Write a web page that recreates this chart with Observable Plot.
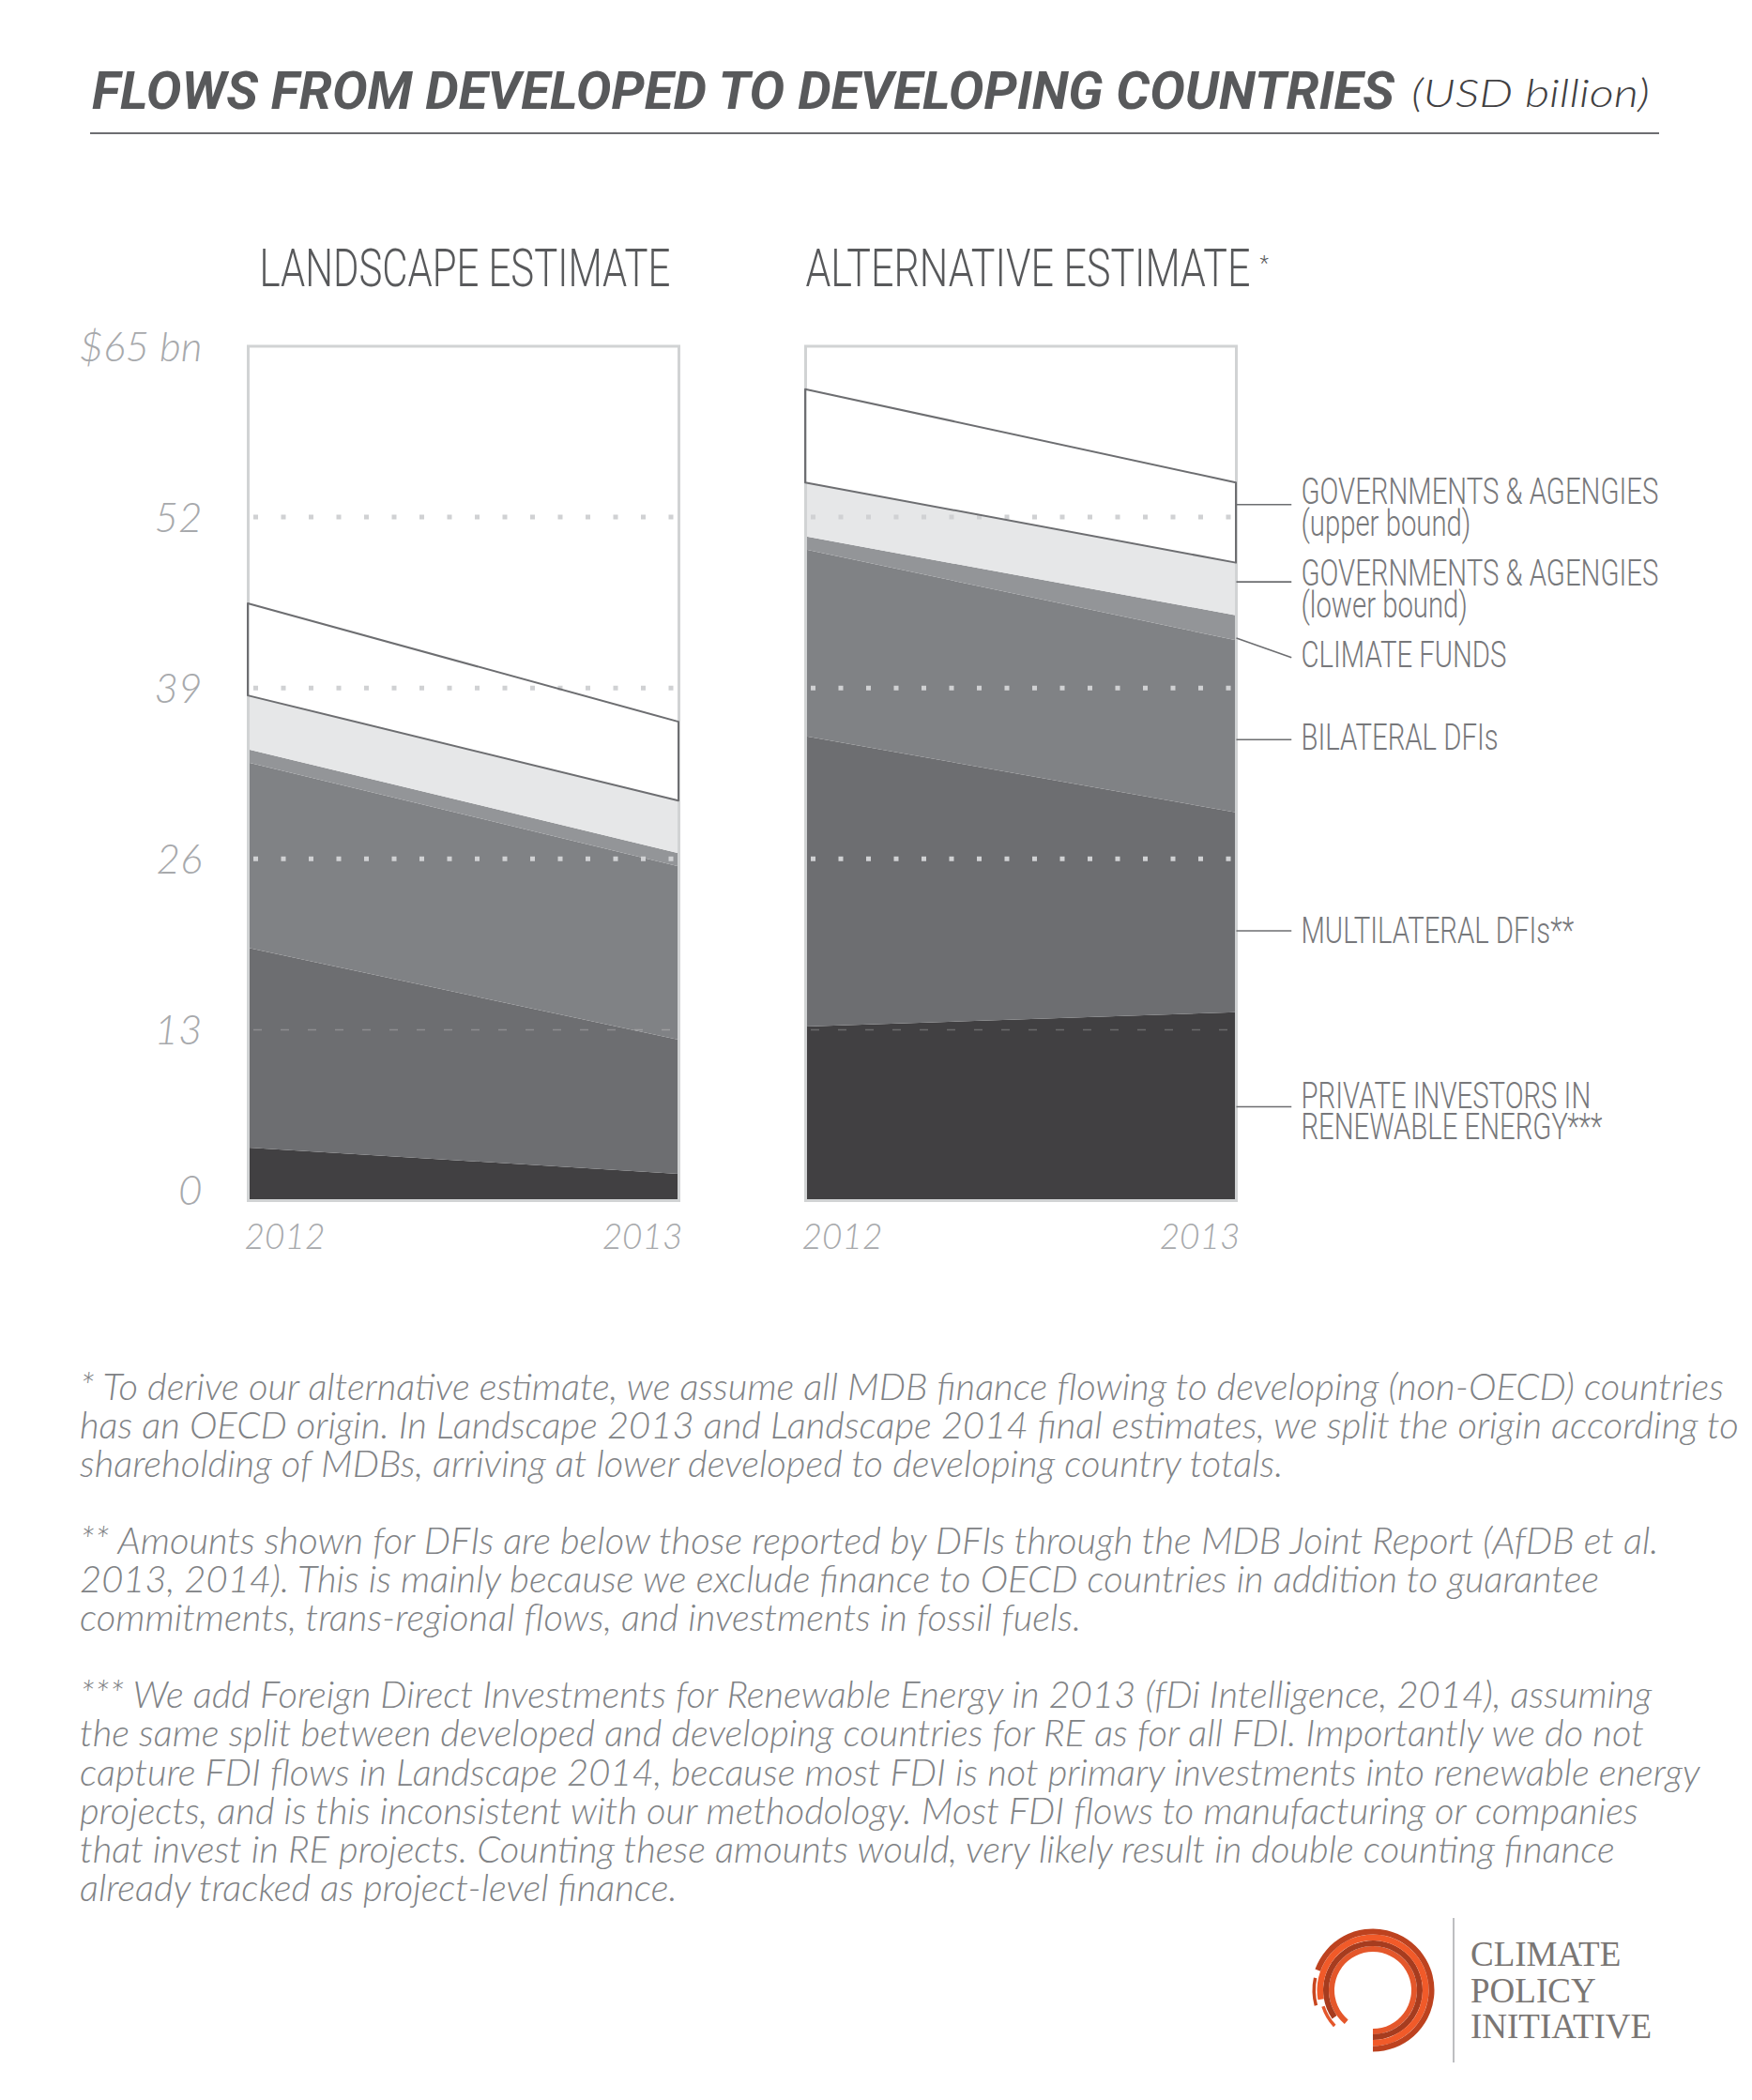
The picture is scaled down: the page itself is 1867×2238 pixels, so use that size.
<!DOCTYPE html>
<html>
<head>
<meta charset="utf-8">
<script src="https://cdn.jsdelivr.net/npm/d3@7"></script>
<script src="https://cdn.jsdelivr.net/npm/@observablehq/plot@0.6"></script>
<style>
  html, body { margin: 0; padding: 0; background: #fff; }
  #page { position: relative; width: 1867px; height: 2238px; overflow: hidden; background: #fff; }
  .abs { position: absolute; white-space: nowrap; line-height: 1; }
  .fit { display: inline-block; transform-origin: 0 50%; }
</style>
</head>
<body>
<div id="page"></div>
<script>
// ---------------- DATA ----------------
const panels = ["LANDSCAPE ESTIMATE", "ALTERNATIVE ESTIMATE"];
const years = [2012, 2013];
const layers = [
  "Private investors in renewable energy",
  "Multilateral DFIs",
  "Bilateral DFIs",
  "Climate funds",
  "Governments & agencies (lower bound)",
  "Governments & agencies (upper bound)"
];
const layerColors = ["#414042", "#6d6e71", "#808285", "#939598", "#e6e7e8", "#ffffff"];

// Landscape estimate, USD bn, [2012, 2013]
const landscapePrivate      = [4.0, 2.0];
const landscapeMultilateral = [15.2, 10.2];
const landscapeBilateral    = [14.1, 13.2];
const landscapeClimateFunds = [1.0, 1.0];
const landscapeGovLower     = [4.1, 4.0];
const landscapeGovUpper     = [7.0, 6.0];

// Alternative estimate, USD bn, [2012, 2013]
const alternativePrivate      = [13.2, 14.3];
const alternativeMultilateral = [22.1, 15.2];
const alternativeBilateral    = [14.2, 13.1];
const alternativeClimateFunds = [1.0, 1.9];
const alternativeGovLower     = [4.1, 4.0];
const alternativeGovUpper     = [7.1, 6.1];

const yTicks = [13, 26, 39, 52, 65];
const yTickLabels = ["13", "26", "39", "52", "$65 bn"];
const yZero = [0];
const dottedGrid = [52, 39, 26];
const dashedGrid = [13];

// labels on the right of the alternative panel
const sideLabels = [
  "GOVERNMENTS & AGENGIES\n(upper bound)",
  "GOVERNMENTS & AGENGIES\n(lower bound)",
  "CLIMATE FUNDS",
  "BILATERAL DFIs",
  "MULTILATERAL DFIs**",
  "PRIVATE INVESTORS IN\nRENEWABLE ENERGY***"
];
const sideLabelY = [52.57, 46.36, 41.37, 35.09, 20.37, 6.6];
const leaderY1   = [52.95, 47.07, 42.79, 35.07, 20.52, 7.14];
const leaderY2   = [52.95, 47.07, 41.31, 35.07, 20.52, 7.14];
const leaderLength = 0.128; // in years, from the 2013 edge

const title = "FLOWS FROM DEVELOPED TO DEVELOPING COUNTRIES";
const titleUnit = "(USD billion)";
const footnoteLines = [
  "* To derive our alternative estimate, we assume all MDB finance flowing to developing (non-OECD) countries",
  "has an OECD origin. In Landscape 2013 and Landscape 2014 final estimates, we split the origin according to",
  "shareholding of MDBs, arriving at lower developed to developing country totals.",
  "",
  "** Amounts shown for DFIs are below those reported by DFIs through the MDB Joint Report (AfDB et al.",
  "2013, 2014). This is mainly because we exclude finance to OECD countries in addition to guarantee",
  "commitments, trans-regional flows, and investments in fossil fuels.",
  "",
  "*** We add Foreign Direct Investments for Renewable Energy in 2013 (fDi Intelligence, 2014), assuming",
  "the same split between developed and developing countries for RE as for all FDI. Importantly we do not",
  "capture FDI flows in Landscape 2014, because most FDI is not primary investments into renewable energy",
  "projects, and is this inconsistent with our methodology. Most FDI flows to manufacturing or companies",
  "that invest in RE projects. Counting these amounts would, very likely result in double counting finance",
  "already tracked as project-level finance."
];
const logoLines = ["CLIMATE", "POLICY", "INITIATIVE"];

// ---------------- BUILD ROWS ----------------
const seriesByPanel = {
  "LANDSCAPE ESTIMATE": [landscapePrivate, landscapeMultilateral, landscapeBilateral, landscapeClimateFunds, landscapeGovLower, landscapeGovUpper],
  "ALTERNATIVE ESTIMATE": [alternativePrivate, alternativeMultilateral, alternativeBilateral, alternativeClimateFunds, alternativeGovLower, alternativeGovUpper]
};
const rows = [];
for (const panel of panels) {
  const vals = seriesByPanel[panel];
  years.forEach((year, j) => {
    let base = 0;
    layers.forEach((layer, i) => {
      const v = vals[i][j];
      rows.push({panel, year, layer, y1: base, y2: base + v});
      base += v;
    });
  });
}
const labelRows = sideLabels.map((text, i) => ({
  panel: panels[1], text, y: sideLabelY[i], ly1: leaderY1[i], ly2: leaderY2[i]
}));

const page = document.getElementById("page");

// ---------------- TITLE ----------------
function addLine(text, {left, baseline, size, family, weight, style, color, asc}) {
  const div = document.createElement("div");
  div.className = "abs";
  div.style.left = left + "px";
  div.style.top = (baseline - asc * size) + "px";
  div.style.fontSize = size + "px";
  div.style.fontFamily = family;
  div.style.fontWeight = weight;
  div.style.fontStyle = style;
  div.style.color = color;
  const span = document.createElement("span");
  span.className = "fit";
  span.textContent = text;
  div.appendChild(span);
  page.appendChild(div);
  return span;
}
function fit(span, target) {
  const w = span.getBoundingClientRect().width;
  if (w > 0) span.style.transform = `scaleX(${target / w})`;
  return w > 0 ? target / w : 1;
}
const tSpan = addLine(title, {left: 98, baseline: 116, size: 56, family: "Roboto, 'Liberation Sans', sans-serif", weight: 700, style: "italic", color: "#58595b", asc: 0.842});
fit(tSpan, 1388);
const uSpan = addLine(titleUnit, {left: 1504, baseline: 114, size: 42, family: "Lato, 'Open Sans', sans-serif", weight: 300, style: "italic", color: "#414042", asc: 0.887});
fit(uSpan, 254);
const rule = document.createElement("div");
rule.style.cssText = "position:absolute;left:96px;top:140.5px;width:1672px;height:2px;background:#6d6e71;";
page.appendChild(rule);

// ---------------- CHART ----------------
const tickFont = {fontFamily: "Lato, 'Open Sans', sans-serif", fontStyle: "italic", fontWeight: 300};
const chart = Plot.plot({
  width: 1867,
  height: 1160,
  marginLeft: 264,
  marginRight: 549,
  marginTop: 168.5,
  marginBottom: 81,
  style: {fontFamily: "Roboto, 'Liberation Sans', sans-serif", background: "transparent", overflow: "visible"},
  fx: {domain: panels, paddingInner: 0.227, paddingOuter: 0, axis: null, label: null},
  x: {domain: [years[0], years[1]], label: null},
  y: {domain: [0, 65], label: null},
  color: {domain: layers, range: layerColors},
  marks: [
    Plot.areaY(rows, {fx: "panel", x: "year", y1: "y1", y2: "y2", z: "layer", fill: "layer"}),
    Plot.frame({stroke: "#d1d3d4", strokeWidth: 3}),
    Plot.ruleY(dottedGrid, {stroke: "#d0d1d3", strokeWidth: 5, strokeDasharray: "5 24.5", insetLeft: 6, insetRight: 4}),
    Plot.ruleY(dashedGrid, {stroke: "#ffffff", strokeOpacity: 0.22, strokeWidth: 1.5, strokeDasharray: "9 20", insetLeft: 6, insetRight: 4}),
    Plot.areaY(rows, {filter: d => d.layer === layers[5], fx: "panel", x: "year", y1: "y1", y2: "y2", fill: "none", stroke: "#6d6e71", strokeWidth: 2}),
    Plot.axisY(yTicks, {tickSize: 0, tickPadding: 49, tickFormat: d => yTickLabels[yTicks.indexOf(d)], fontSize: 44, color: "#a7a9ac", label: null, dy: 2, ...tickFont}),
    Plot.axisY(yZero, {tickSize: 0, tickPadding: 49, tickFormat: d => String(d), fontSize: 44, color: "#a7a9ac", label: null, dy: -10, ...tickFont}),
    Plot.axisX([years[0]], {tickSize: 0, tickPadding: 25, textAnchor: "start", fontSize: 37, color: "#a7a9ac", label: null, tickFormat: d => String(d), dx: -4, ...tickFont}),
    Plot.axisX([years[1]], {tickSize: 0, tickPadding: 25, textAnchor: "end", fontSize: 37, color: "#a7a9ac", label: null, tickFormat: d => String(d), dx: 4, ...tickFont}),
    Plot.text([panels[0]], {fx: d => d, text: d => d, frameAnchor: "top", textAnchor: "middle", lineAnchor: "middle", dy: -82, dx: 1.5, fontSize: 55, fontWeight: 300, fill: "#58595b"}),
    Plot.text([panels[1]], {fx: d => d, text: d => d, frameAnchor: "top-left", textAnchor: "start", lineAnchor: "middle", dy: -82, fontSize: 55, fontWeight: 300, fill: "#58595b"}),
    Plot.text(["*"], {fx: () => panels[1], text: d => d, frameAnchor: "top-left", textAnchor: "start", lineAnchor: "top", dx: 484, dy: -97, fontSize: 22, fontWeight: 300, fill: "#58595b"}),
    Plot.link(labelRows, {fx: "panel", x1: () => years[1], x2: () => years[1] + leaderLength, y1: "ly1", y2: "ly2", stroke: "#6d6e71", strokeWidth: 1.6}),
    Plot.text(labelRows, {fx: "panel", x: () => years[1], y: "y", text: "text", dx: 69, textAnchor: "start", lineAnchor: "middle", lineHeight: 0.88, fontSize: 38, fontWeight: 300, fill: "#77787b"})
  ]
});
chart.style.position = "absolute";
chart.style.left = "0px";
chart.style.top = "200px";
page.appendChild(chart);

function condense(el, k) {
  const t = el.getAttribute("transform");
  if (t) {
    el.setAttribute("transform", t + ` scale(${k},1)`);
  } else {
    const x = +(el.getAttribute("x") || 0);
    el.removeAttribute("x");
    el.setAttribute("transform", `translate(${x},0) scale(${k},1)`);
  }
}
try {
  const allText = Array.from(chart.querySelectorAll("text"));
  const subTargets = {[panels[0]]: 438, [panels[1]]: 474};
  allText.filter(s => panels.includes(s.textContent)).forEach(s => {
    condense(s, subTargets[s.textContent] / s.getBBox().width);
  });
  const flat = sideLabels.map(s => s.replace("\n", ""));
  const sides = allText.filter(s => flat.includes(s.textContent));
  const refSide = sides.find(s => s.textContent.startsWith("GOVERNMENTS"));
  const kSide = 381 / refSide.getBBox().width;
  sides.forEach(s => condense(s, kSide));
} catch (e) { console.error(e); }

// ---------------- FOOTNOTES ----------------
const footSpans = [];
footnoteLines.forEach((line, n) => {
  if (!line) return;
  footSpans.push(addLine(line, {left: 85, baseline: 1492 + 41.1 * n, size: 40, family: "Lato, 'Open Sans', sans-serif", weight: 300, style: "italic", color: "#808285", asc: 0.887}));
});
const kFoot = 1752 / footSpans[0].getBoundingClientRect().width;
footSpans.forEach(s => s.style.transform = `scaleX(${kFoot})`);

// ---------------- LOGO ----------------
const logo = d3.select(page).append("svg")
  .attr("width", 420).attr("height", 210)
  .style("position", "absolute").style("left", "1380px").style("top", "2030px");
const lg = logo.append("g").attr("transform", "translate(83,91)");
const deg = Math.PI / 180;
const arc = d3.arc();
[
  {innerRadius: 41, outerRadius: 47, startAngle: -140 * deg, color: "#e4572b"},
  {innerRadius: 47, outerRadius: 53, startAngle: -125 * deg, color: "#a63c1f"},
  {innerRadius: 53, outerRadius: 59.5, startAngle: -100 * deg, color: "#f15a29"},
  {innerRadius: 59.5, outerRadius: 65.5, startAngle: -70 * deg, color: "#bd421f"},
  {innerRadius: 61, outerRadius: 64.5, startAngle: -105 * deg, endAngle: -78 * deg, color: "#c8461f"},
  {innerRadius: 54, outerRadius: 57.5, startAngle: -133 * deg, endAngle: -108 * deg, color: "#e4572b"}
].forEach(r => {
  lg.append("path").attr("fill", r.color)
    .attr("d", arc({innerRadius: r.innerRadius, outerRadius: r.outerRadius, startAngle: r.startAngle, endAngle: r.endAngle ?? 180 * deg}));
});
logo.append("line").attr("x1", 169).attr("x2", 169).attr("y1", 14).attr("y2", 168).attr("stroke", "#a7a9ac").attr("stroke-width", 1.5);
logoLines.forEach((t, i) => {
  logo.append("text").attr("x", 187).attr("y", 65 + i * 38.5)
    .attr("font-family", "'Liberation Serif', 'DejaVu Serif', serif").attr("font-size", 37)
    .attr("fill", "#7a7674").text(t);
});
</script>
</body>
</html>
